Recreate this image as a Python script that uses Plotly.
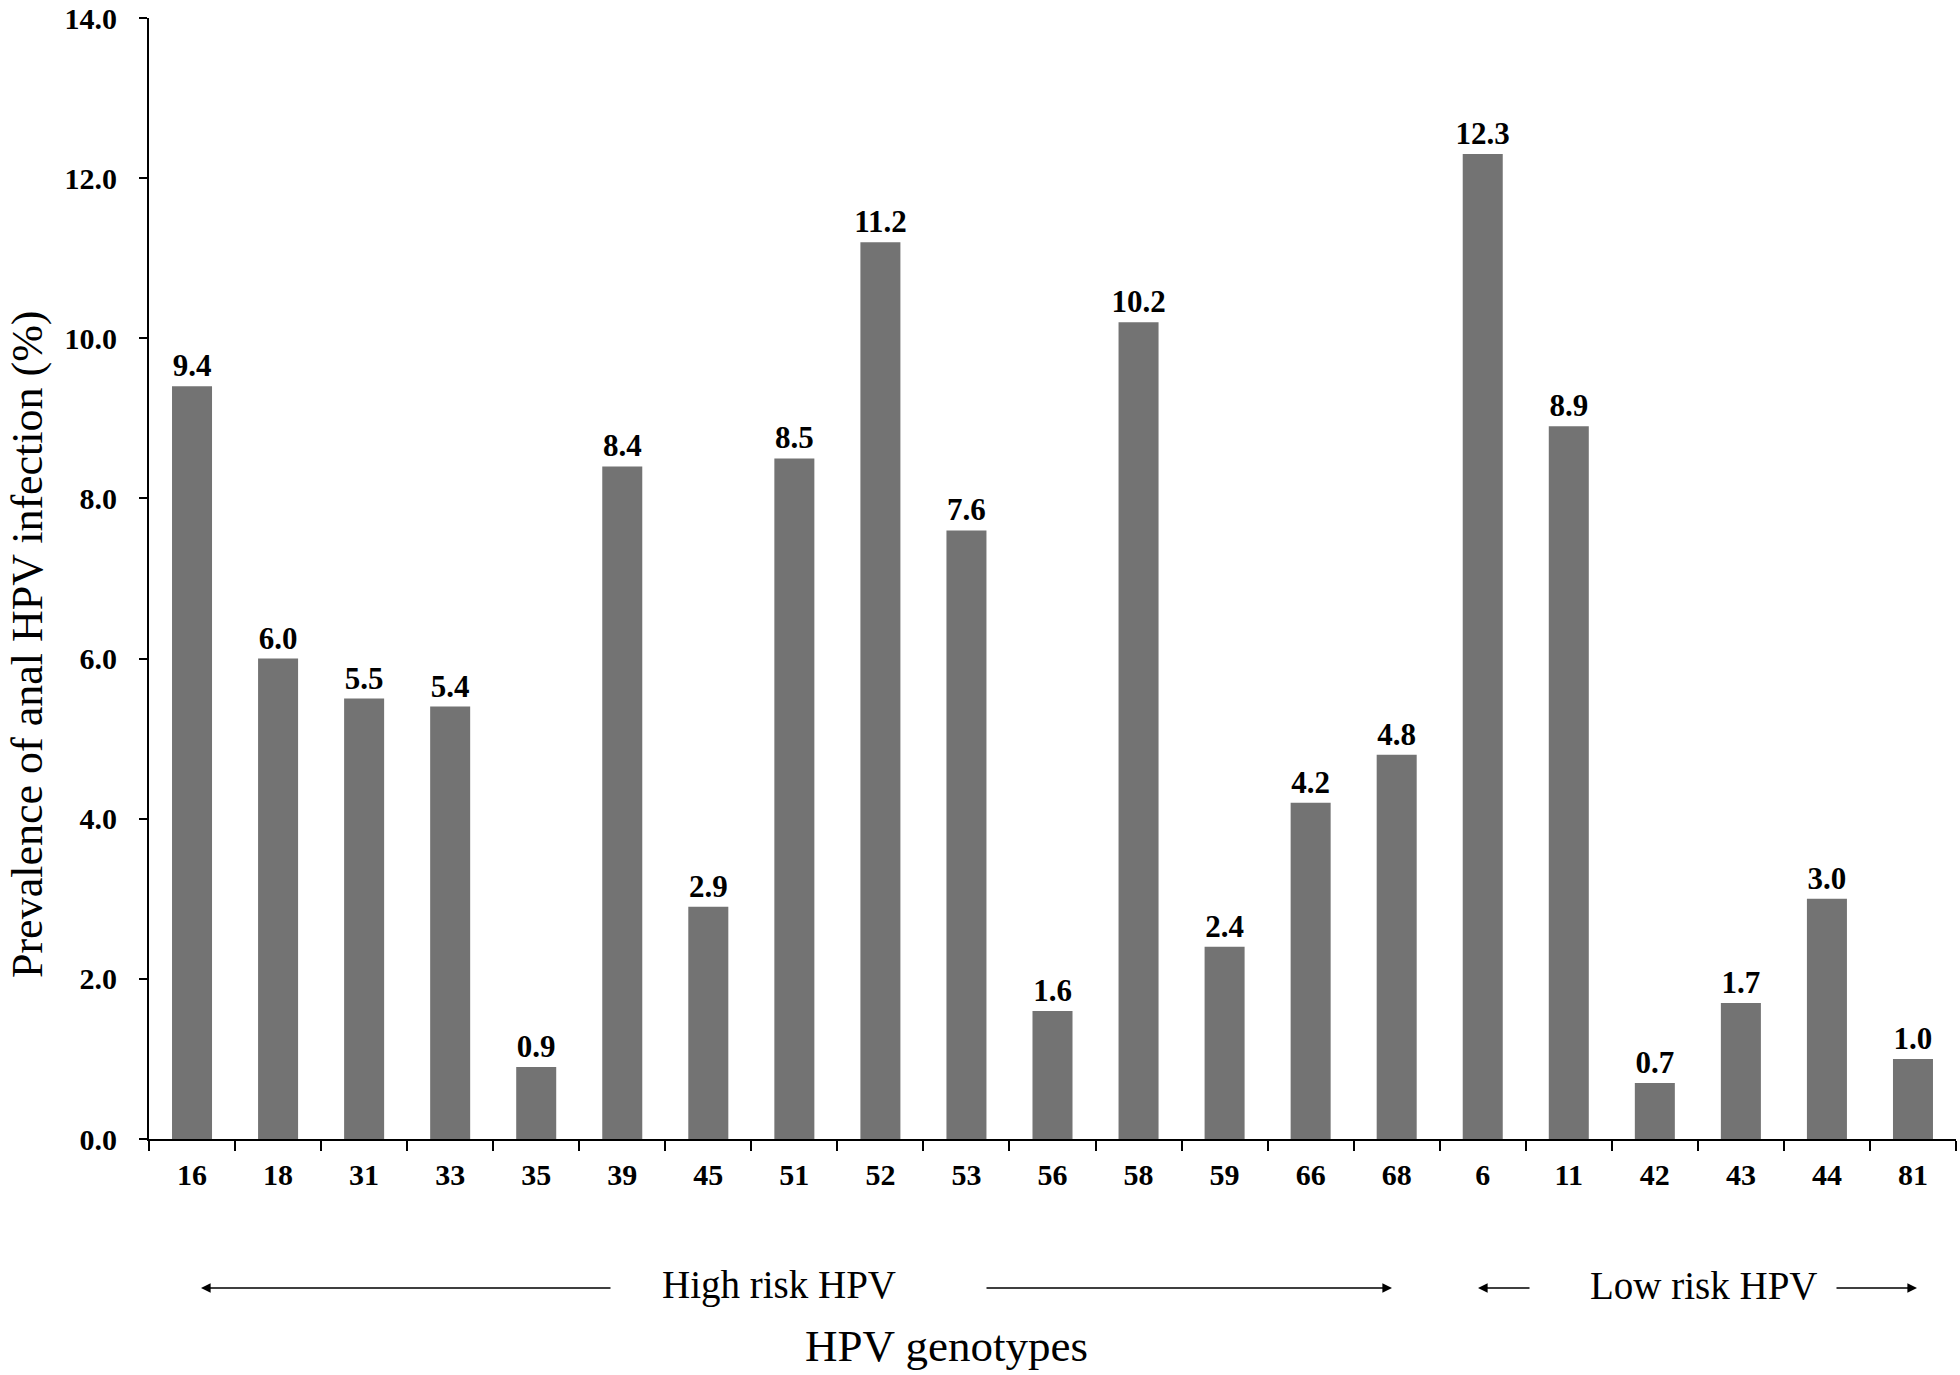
import plotly.graph_objects as go

genotypes = ["16", "18", "31", "33", "35", "39", "45", "51", "52", "53", "56", "58", "59", "66", "68",
             "6", "11", "42", "43", "44", "81"]
prevalence = [9.4, 6.0, 5.5, 5.4, 0.9, 8.4, 2.9, 8.5, 11.2, 7.6, 1.6, 10.2, 2.4, 4.2, 4.8,
              12.3, 8.9, 0.7, 1.7, 3.0, 1.0]
y_ticks = [0, 2, 4, 6, 8, 10, 12, 14]
y_ticktext = ["0.0", "2.0", "4.0", "6.0", "8.0", "10.0", "12.0", "14.0"]

W, H = 1960, 1375
L, R, T, B = 149, 4, 18, 236
pw = W - L - R
ph = H - T - B

def px(x):
    return (x - L) / pw

def py(y):
    return (H - B - y) / ph

FONT = "Times New Roman, Liberation Serif, serif"

fig = go.Figure(go.Bar(
    x=genotypes, y=prevalence,
    marker=dict(color="#737373", line=dict(width=0)),
    texttemplate="%{y:.1f}", textposition="outside",
    constraintext="none",
    textfont=dict(family=FONT, size=31, color="black", weight="bold"),
    cliponaxis=False,
))

fig.update_layout(
    width=W, height=H,
    margin=dict(l=L, r=R, t=T, b=B, autoexpand=False),
    plot_bgcolor="white", paper_bgcolor="white",
    bargap=0.535,
    showlegend=False,
    xaxis=dict(
        type="category", automargin=False,
        showline=True, linecolor="black", linewidth=2,
        ticks="outside", ticklen=10, tickwidth=2, tickcolor="black",
        tickson="boundaries",
        tickfont=dict(family=FONT, size=30, color="black", weight="bold"),
        ticklabelstandoff=8,
        showgrid=False, zeroline=False,
    ),
    yaxis=dict(
        range=[0, 14], automargin=False,
        tickvals=y_ticks, ticktext=y_ticktext,
        ticklabeloverflow="allow",
        showline=True, linecolor="black", linewidth=2,
        ticks="outside", ticklen=8, tickwidth=2, tickcolor="black",
        tickfont=dict(family=FONT, size=30, color="black", weight="bold"),
        ticklabelstandoff=16,
        showgrid=False, zeroline=False,
    ),
)

ann = []
ann.append(dict(text="Prevalence of anal HPV infection (%)", textangle=-90,
                xref="paper", yref="paper", x=px(27), y=py(644),
                xanchor="center", yanchor="middle", showarrow=False,
                font=dict(family=FONT, size=44, color="black")))
ann.append(dict(text="HPV genotypes", xref="paper", yref="paper",
                x=px(946), y=py(1346), xanchor="center", yanchor="middle",
                showarrow=False, font=dict(family=FONT, size=45, color="black")))
ann.append(dict(text="High risk HPV", xref="paper", yref="paper",
                x=px(779), y=py(1285), xanchor="center", yanchor="middle",
                showarrow=False, font=dict(family=FONT, size=39, color="black")))
ann.append(dict(text="Low risk HPV", xref="paper", yref="paper",
                x=px(1704), y=py(1285), xanchor="center", yanchor="middle",
                showarrow=False, font=dict(family=FONT, size=39, color="black")))

arrows = [(612, 201), (985, 1392), (1531, 1478), (1835, 1917)]
for tail, head in arrows:
    ann.append(dict(text="", xref="paper", yref="paper", x=px(head), y=py(1288),
                    axref="pixel", ayref="pixel", ax=tail - head, ay=0,
                    showarrow=True, arrowhead=2, arrowsize=1.2, arrowwidth=1.6,
                    arrowcolor="black"))
fig.update_layout(annotations=ann)

fig.write_html("out.html", config={"displayModeBar": False},
               post_script="document.body.style.margin='0px';")
